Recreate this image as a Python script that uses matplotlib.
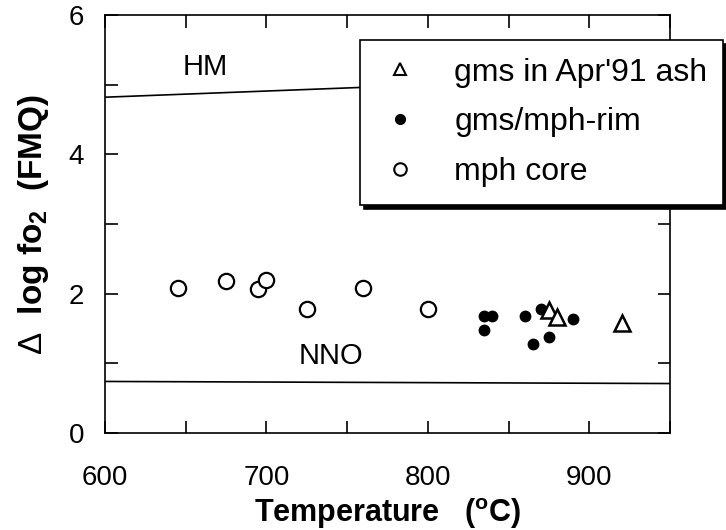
import matplotlib
matplotlib.use('Agg')
import matplotlib.pyplot as plt
from matplotlib.lines import Line2D

plt.rcParams['font.family'] = ['Liberation Sans', 'DejaVu Sans']
plt.rcParams['mathtext.fontset'] = 'custom'
plt.rcParams['mathtext.rm'] = 'Liberation Sans'
plt.rcParams['mathtext.bf'] = 'Liberation Sans:bold'

# data
core_T = [645, 675, 695, 700, 725, 760, 800]
core_y = [2.08, 2.18, 2.07, 2.20, 1.78, 2.08, 1.78]

rim_T = [835, 840, 835, 860, 870, 890, 875, 865]
rim_y = [1.68, 1.68, 1.48, 1.68, 1.78, 1.64, 1.38, 1.28]

ash_T = [875, 880, 920]
ash_y = [1.76, 1.66, 1.58]

hm_T = [600, 950]
hm_y = [4.82, 5.13]
nno_T = [600, 950]
nno_y = [0.74, 0.71]

xticks_major = [600, 700, 800, 900]
xticks_minor = [650, 750, 850, 950]
yticks_major = [0, 2, 4, 6]
yticks_minor = [1, 3, 5]

fig = plt.figure(figsize=(7.26, 5.30), dpi=100)
ax = fig.add_axes([105/726, 97/530, 565/726, 418/530])

ax.plot(hm_T, hm_y, color='black', lw=1.2)
ax.plot(nno_T, nno_y, color='black', lw=1.2)

ax.plot(core_T, core_y, 'o', mfc='white', mec='black', ms=11, mew=1.6, ls='none')
ax.plot(rim_T, rim_y, 'o', color='black', ms=7.5, ls='none')
ax.plot(ash_T, ash_y, '^', mfc='white', mec='black', ms=11, mew=1.8, ls='none')

ax.text(662, 5.25, 'HM', fontsize=21, ha='center', va='center')
ax.text(740, 1.1, 'NNO', fontsize=21, ha='center', va='center')

ax.set_xlim(600, 950)
ax.set_ylim(0, 6)
ax.set_xticks(xticks_major)
ax.set_xticks(xticks_minor, minor=True)
ax.set_yticks(yticks_major)
ax.set_yticks(yticks_minor, minor=True)

for s in ax.spines.values():
    s.set_linewidth(1.2)

ax.tick_params(which='both', direction='in', top=True, right=True, length=9, width=1.2)
ax.tick_params(axis='x', which='major', labelsize=20, pad=23)
ax.tick_params(axis='y', which='major', labelsize=20, pad=15)

ax.set_xlabel(r'Temperature   ($^{\mathbf{o}}$C)', fontsize=22, fontweight='bold', labelpad=4)
ax.set_ylabel(r'$\Delta$  log fo$_{\mathbf{2}}$  (FMQ)', fontsize=24, fontweight='bold', labelpad=13)

handles = [
    Line2D([], [], marker='^', ls='none', mfc='white', mec='black', ms=8, mew=1.5),
    Line2D([], [], marker='o', ls='none', color='black', ms=7),
    Line2D([], [], marker='o', ls='none', mfc='white', mec='black', ms=9, mew=1.5),
]
labels = ["gms in Apr'91 ash", 'gms/mph-rim', 'mph core']
leg = ax.legend(handles, labels, loc='upper left',
                bbox_to_anchor=(360/726, 325/530, 363/726, 165/530),
                bbox_transform=fig.transFigure, mode='expand',
                fontsize=23, frameon=True, fancybox=False,
                shadow={'ox': 3, 'oy': -3, 'facecolor': 'black', 'edgecolor': 'black', 'alpha': 1},
                labelspacing=0.62, handletextpad=1.0, handlelength=1.4,
                borderpad=0.55, borderaxespad=0)
leg.get_frame().set_edgecolor('black')
leg.get_frame().set_linewidth(1.2)
leg.get_frame().set_alpha(1)

fig.savefig('out.png', dpi=100)
